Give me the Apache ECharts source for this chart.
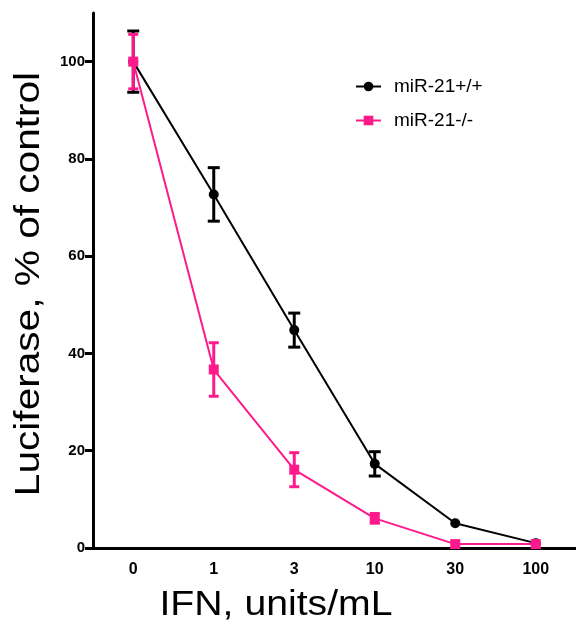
<!DOCTYPE html>
<html>
<head>
<meta charset="utf-8">
<script src="https://cdn.jsdelivr.net/npm/echarts@6/dist/echarts.min.js"></script>
<style>
  html, body { margin: 0; padding: 0; background: #fff; }
  #chart { width: 576px; height: 625px; }
</style>
</head>
<body>
<div id="chart"></div>
<script>
// doses (x categories)
var doses = ['0', '1', '3', '10', '30', '100'];
// miR-21+/+  mean and SEM
var wtMean = [100, 72.7, 44.8, 17.3, 5.1, 1.0];
var wtErr = [6.3, 5.5, 3.5, 2.5, 0, 0];
// miR-21-/-  mean and SEM
var koMean = [100, 36.7, 16.1, 6.1, 0.8, 0.8];
var koErr = [5.6, 5.5, 3.5, 1.0, 0, 0];
var yTicks = [0, 20, 40, 60, 80, 100];

var pink = '#ff1a8c';
var font = 'Liberation Sans, Arial, sans-serif';

function errData(mean, err) {
  return mean.map(function (m, i) { return [i, m - err[i], m + err[i]]; });
}

function errRender(capW) {
  return function (params, api) {
    var x = api.value(0);
    var lo = api.coord([x, api.value(1)]);
    var hi = api.coord([x, api.value(2)]);
    if (Math.abs(hi[1] - lo[1]) < 1) return;
    var st = { stroke: api.visual('color'), lineWidth: 3 };
    return {
      type: 'group',
      children: [
        { type: 'line', shape: { x1: lo[0], y1: lo[1], x2: hi[0], y2: hi[1] }, style: st },
        { type: 'line', shape: { x1: lo[0] - capW, y1: lo[1], x2: lo[0] + capW, y2: lo[1] }, style: st },
        { type: 'line', shape: { x1: hi[0] - capW, y1: hi[1], x2: hi[0] + capW, y2: hi[1] }, style: st }
      ]
    };
  };
}

var chart = echarts.init(document.getElementById('chart'));
chart.setOption({
  animation: false,
  textStyle: { fontFamily: font },
  legend: {
    left: 350, top: 72, orient: 'vertical', itemGap: 15,
    itemWidth: 25, itemHeight: 12,
    textStyle: { fontSize: 19, color: '#000', padding: [0, 0, 0, 8] },
    data: ['miR-21+/+', 'miR-21-/-']
  },
  // axis titles (the original figure is a bit stretched sideways)
  graphic: [
    {
      type: 'text', x: 29, y: 284, rotation: Math.PI / 2, scaleX: 1.16,
      style: { text: 'Luciferase, % of control', font: '35px ' + font, fill: '#000', align: 'center', verticalAlign: 'middle' }
    },
    {
      type: 'text', x: 276, y: 605, scaleX: 1.12,
      style: { text: 'IFN, units/mL', font: '35px ' + font, fill: '#000', align: 'center', verticalAlign: 'middle' }
    }
  ],
  grid: { left: 93, top: 13, width: 488, bottom: 77 },
  xAxis: {
    type: 'category', data: doses, boundaryGap: true,
    axisLine: { lineStyle: { color: '#000', width: 3 } },
    axisTick: { alignWithLabel: true, length: 8, lineStyle: { width: 3 } },
    axisLabel: { fontSize: 16, fontWeight: 'bold', color: '#000', margin: 14 }
  },
  yAxis: {
    type: 'value', min: 0, max: 110,
    axisLine: { show: true, lineStyle: { color: '#000', width: 3 } },
    axisTick: { show: true, length: 8, lineStyle: { width: 3 }, customValues: yTicks },
    axisLabel: { fontSize: 15, fontWeight: 'bold', color: '#000', margin: 8, customValues: yTicks },
    splitLine: { show: false }
  },
  series: [
    {
      name: 'miR-21+/+', type: 'line', data: wtMean,
      symbol: 'circle', symbolSize: 10,
      lineStyle: { color: '#000', width: 2 }, itemStyle: { color: '#000' }, z: 3
    },
    {
      type: 'custom', data: errData(wtMean, wtErr), renderItem: errRender(6),
      itemStyle: { color: '#000' }, z: 3
    },
    {
      name: 'miR-21-/-', type: 'line', data: koMean,
      symbol: 'rect', symbolSize: 10,
      lineStyle: { color: pink, width: 2 }, itemStyle: { color: pink }, z: 4
    },
    {
      type: 'custom', data: errData(koMean, koErr), renderItem: errRender(5),
      itemStyle: { color: pink }, z: 4
    }
  ]
});
</script>
</body>
</html>
